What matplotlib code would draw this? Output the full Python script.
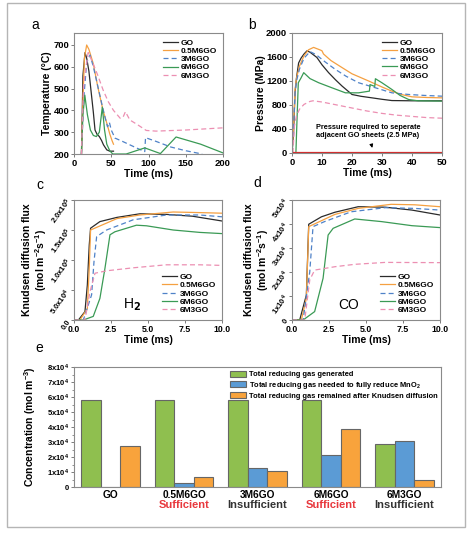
import numpy as np
import matplotlib
matplotlib.use("Agg")
import matplotlib.pyplot as plt
from matplotlib.patches import Rectangle
from matplotlib.transforms import blended_transform_factory

plt.rcParams['font.family'] = ['Liberation Sans', 'DejaVu Sans']
plt.rcParams['font.weight'] = 'bold'
plt.rcParams['axes.labelweight'] = 'bold'
plt.rcParams['mathtext.fontset'] = 'custom'
plt.rcParams['mathtext.rm'] = 'Liberation Sans:bold'
plt.rcParams['mathtext.it'] = 'Liberation Sans:bold'
plt.rcParams['mathtext.bf'] = 'Liberation Sans:bold'

names = ["GO", "0.5M6GO", "3M6GO", "6M6GO", "6M3GO"]
colors = ['#2b2b2b', '#f5a041', '#4f82c8', '#3a9a55', '#ec8fb2']
dashed = [False, False, True, False, True]

# a: temperature vs time
tA_GO = [10, 12, 14.8, 17, 20, 23.7, 26, 28.2, 31, 34, 37, 39.6, 44, 48, 53]
TA_GO = [200, 560, 665, 640, 580, 463, 390, 310, 290, 280, 262, 242, 219, 213, 213]
tA_05 = [10, 12, 14, 17, 20, 25.9, 32, 39, 45, 48, 51, 53]
TA_05 = [200, 450, 640, 700, 680, 614, 507, 400, 330, 292, 262, 245]
tA_3 = [10, 13, 17, 21.5, 26, 30, 34, 38, 42, 45, 47.5, 50, 55, 65, 75, 85, 95, 96, 110, 130, 150, 172]
TA_3 = [200, 450, 620, 654, 600, 540, 480, 420, 364, 325, 345, 310, 273, 258, 242, 226, 211, 275, 258, 232, 215, 200]
tA_6 = [10, 12, 14.5, 18, 22, 26, 30, 34, 38, 41, 44, 48, 52, 70, 95, 116, 137, 170, 200]
TA_6 = [200, 380, 470, 380, 310, 285, 280, 300, 415, 310, 245, 215, 200, 200, 228, 202, 278, 245, 205]
tA_63 = [10, 13, 19, 25, 32, 39, 46, 53, 62, 66, 69, 75, 85, 97, 110, 150, 200]
TA_63 = [200, 520, 665, 620, 560, 494, 440, 400, 364, 370, 394, 356, 335, 308, 305, 310, 320]

# b: pressure vs time
tB_GO = [0, 0.5, 1, 1.5, 2.2, 3, 4, 5, 6, 8.3, 10, 12.2, 14.5, 16.7, 20, 23, 26.7, 30, 33.3, 40, 50]
PB_GO = [0, 300, 1000, 1250, 1500, 1580, 1650, 1703, 1680, 1592, 1470, 1339, 1220, 1115, 975, 945, 919, 895, 874, 870, 870]
tB_05 = [0, 0.5, 1, 1.5, 2.5, 4, 5.5, 7.2, 9.5, 10, 10.5, 13, 16.7, 20, 25.6, 30, 33.3, 36, 40, 45, 50]
PB_05 = [0, 400, 1050, 1250, 1450, 1620, 1720, 1760, 1715, 1703, 1650, 1540, 1423, 1320, 1199, 1100, 1031, 980, 936, 925, 919]
tB_3 = [0, 0.5, 1, 1.5, 2.5, 4, 6, 8, 11, 14.4, 18, 22.2, 27.8, 33.3, 39, 44, 50]
PB_3 = [0, 350, 1000, 1200, 1400, 1580, 1690, 1640, 1520, 1395, 1280, 1171, 1087, 1003, 975, 960, 947]
tB_6 = [0, 1.3, 1.7, 2.1, 3, 3.9, 6, 8.9, 13.3, 17.8, 22.2, 25.8, 26, 27.6, 27.8, 30, 33.3, 36, 38.9, 42, 50]
PB_6 = [0, 0, 600, 1171, 1250, 1339, 1240, 1171, 1087, 1003, 1003, 1031, 1140, 1110, 1238, 1170, 1059, 960, 891, 870, 865]
tB_63 = [0.3, 0.8, 1.5, 2.5, 4, 6, 7, 10, 15, 20, 25, 30, 35, 40, 45, 50]
PB_63 = [0, 450, 620, 730, 810, 860, 870, 850, 800, 750, 700, 660, 630, 610, 590, 580]
p_required = 2.5

# c: H2 Knudsen flux
tC_GO = [0, 0.3, 0.74, 0.9, 1.03, 1.12, 1.75, 2.9, 4.45, 6.25, 8.0, 10]
FC_GO = [0, 0, 0.14e5, 0.58e5, 1.25e5, 1.53e5, 1.64e5, 1.71e5, 1.77e5, 1.76e5, 1.73e5, 1.65e5]
tC_05 = [0, 0.4, 0.9, 1.03, 1.12, 2.9, 4.45, 6.7, 8.5, 10]
FC_05 = [0, 0, 0.19e5, 0.86e5, 1.5e5, 1.69e5, 1.75e5, 1.8e5, 1.79e5, 1.78e5]
tC_3 = [0, 0.63, 1.19, 1.35, 1.53, 2.2, 4.0, 6.25, 8.5, 10]
FC_3 = [0, 0, 0.42e5, 0.97e5, 1.39e5, 1.5e5, 1.67e5, 1.75e5, 1.75e5, 1.72e5]
tC_6 = [0, 0.63, 1.3, 1.75, 2.09, 2.43, 2.76, 4.22, 4.9, 6.7, 8.5, 10]
FC_6 = [0, 0, 0.06e5, 0.36e5, 0.86e5, 1.42e5, 1.47e5, 1.58e5, 1.57e5, 1.5e5, 1.46e5, 1.44e5]
tC_63 = [0, 0.74, 1.08, 1.42, 2.2, 4.0, 6.25, 8.5, 10]
FC_63 = [0, 0, 0.47e5, 0.78e5, 0.82e5, 0.87e5, 0.92e5, 0.92e5, 0.91e5]

# d: CO Knudsen flux
tD_GO = [0, 0.52, 0.97, 1.13, 1.99, 2.9, 4.47, 6.3, 8.1, 10]
FD_GO = [0, 0, 1.04e4, 3.99e4, 4.3e4, 4.49e4, 4.72e4, 4.7e4, 4.58e4, 4.375e4]
tD_05 = [0, 0.63, 0.97, 1.13, 2.9, 4.47, 6.7, 8.3, 10]
FD_05 = [0, 0, 0.9e4, 3.89e4, 4.4e4, 4.65e4, 4.82e4, 4.8e4, 4.72e4]
tD_3 = [0, 0.75, 1.2, 1.42, 2.2, 4.0, 6.3, 8.3, 10]
FD_3 = [0, 0, 2.01e4, 3.89e4, 4.1e4, 4.51e4, 4.68e4, 4.65e4, 4.58e4]
tD_6 = [0, 0.75, 1.53, 2.1, 2.44, 2.78, 4.24, 6.05, 8.1, 10]
FD_6 = [0, 0, 0.35e4, 1.74e4, 3.54e4, 3.82e4, 4.21e4, 4.1e4, 3.93e4, 3.85e4]
tD_63 = [0, 0.86, 1.2, 1.53, 2.9, 4.24, 6.3, 10]
FD_63 = [0, 0, 1.67e4, 2.08e4, 2.22e4, 2.32e4, 2.4e4, 2.39e4]

# e: concentration bars
gas_generated = [5.8e4, 5.8e4, 5.8e4, 5.8e4, 2.9e4]
gas_needed = [0, 0.25e4, 1.3e4, 2.12e4, 3.1e4]
gas_remained = [2.75e4, 0.7e4, 1.05e4, 3.88e4, 0.48e4]
status = ["", "Sufficient", "Insufficient", "Sufficient", "Insufficient"]
status_colors = ['black', '#e8383d', '#333333', '#e8383d', '#333333']

W, H = 475, 534
fig = plt.figure(figsize=(W / 100, H / 100), dpi=100)


def rect(l, r, t, b):
    return [l / W, 1 - b / H, (r - l) / W, (b - t) / H]


def style(ax, size=6.8):
    for s in ax.spines.values():
        s.set_color('#8a8a8a')
        s.set_linewidth(0.8)
    ax.tick_params(labelsize=size, length=2, width=0.6, color='#666666', pad=1.5)


def curves(ax, data):
    for (x, y), c, d, n in zip(data, colors, dashed, names):
        ax.plot(x, y, color=c, lw=0.9, ls=(0, (4, 2.5)) if d else '-', label=n)


leg_kw = dict(fontsize=6, frameon=False, handlelength=1.8, labelspacing=0.05,
              borderaxespad=0.3, handletextpad=0.4)

axA = fig.add_axes(rect(74, 223, 33, 154))
curves(axA, [(tA_GO, TA_GO), (tA_05, TA_05), (tA_3, TA_3), (tA_6, TA_6), (tA_63, TA_63)])
axA.set_xlim(0, 200)
axA.set_ylim(200, 755)
axA.set_xticks([0, 50, 100, 150, 200])
axA.set_yticks([200, 300, 400, 500, 600, 700])
axA.set_xlabel("Time (ms)", fontsize=7.5, labelpad=1)
axA.set_ylabel("Temperature (°C)", fontsize=7.5)
axA.yaxis.set_label_coords(-0.15, 0.5)
axA.legend(loc='upper right', **leg_kw)
style(axA)

axB = fig.add_axes(rect(292, 442, 33, 153))
curves(axB, [(tB_GO, PB_GO), (tB_05, PB_05), (tB_3, PB_3), (tB_6, PB_6), (tB_63, PB_63)])
axB.plot([0, 50], [p_required, p_required], color='#d42a2a', lw=1.6)
axB.annotate("Pressure required to seperate\nadjacent GO sheets (2.5 MPa)",
             xy=(27, 40), xytext=(25.3, 360), ha='center', va='center', fontsize=5.3,
             arrowprops=dict(arrowstyle='-|>', color='black', lw=0.7, mutation_scale=5))
axB.set_xlim(0, 50)
axB.set_ylim(0, 2000)
axB.set_xticks([0, 10, 20, 30, 40, 50])
axB.set_yticks([0, 400, 800, 1200, 1600, 2000])
axB.set_xlabel("Time (ms)", fontsize=7.5, labelpad=1)
axB.set_ylabel("Pressure (MPa)", fontsize=7.5)
axB.yaxis.set_label_coords(-0.17, 0.5)
axB.legend(loc='upper right', **leg_kw)
style(axB)

flux_label = "Knudsen diffusion flux\n(mol m$^{-2}$s$^{-1}$)"

axC = fig.add_axes(rect(74, 222, 200, 320))
curves(axC, [(tC_GO, FC_GO), (tC_05, FC_05), (tC_3, FC_3), (tC_6, FC_6), (tC_63, FC_63)])
axC.set_xlim(0, 10)
axC.set_ylim(0, 2.0e5)
axC.set_xticks([0, 2.5, 5, 7.5, 10])
axC.set_xticklabels(["0.0", "2.5", "5.0", "7.5", "10.0"])
axC.set_yticks([0, 0.5e5, 1.0e5, 1.5e5, 2.0e5])
axC.set_yticklabels(["0.0", "5.0x10$^4$", "1.0x10$^5$", "1.5x10$^5$", "2.0x10$^5$"],
                    rotation=55, ha='right', va='center', rotation_mode='anchor')
axC.text(3.9, 0.25e5, "H$_2$", fontsize=10, ha='center', va='center',
         math_fontfamily='dejavusans', fontweight='normal')
axC.set_xlabel("Time (ms)", fontsize=7.5, labelpad=1)
axC.set_ylabel(flux_label, fontsize=7.5, linespacing=1.1)
axC.yaxis.set_label_coords(-0.17, 0.5)
axC.legend(loc='lower right', **leg_kw)
style(axC, 6.3)
axC.tick_params(axis='y', labelsize=5.5)

axD = fig.add_axes(rect(292, 440, 200, 320))
curves(axD, [(tD_GO, FD_GO), (tD_05, FD_05), (tD_3, FD_3), (tD_6, FD_6), (tD_63, FD_63)])
axD.set_xlim(0, 10)
axD.set_ylim(0, 5e4)
axD.set_xticks([0, 2.5, 5, 7.5, 10])
axD.set_xticklabels(["0.0", "2.5", "5.0", "7.5", "10.0"])
axD.set_yticks([0, 1e4, 2e4, 3e4, 4e4, 5e4])
axD.set_yticklabels(["0", "1x10$^4$", "2x10$^4$", "3x10$^4$", "4x10$^4$", "5x10$^4$"],
                    rotation=55, ha='right', va='center', rotation_mode='anchor')
axD.text(3.8, 0.625e4, "CO", fontsize=10, ha='center', va='center', fontweight='normal')
axD.set_xlabel("Time (ms)", fontsize=7.5, labelpad=1)
axD.set_ylabel(flux_label, fontsize=7.5, linespacing=1.1)
axD.yaxis.set_label_coords(-0.14, 0.5)
axD.legend(loc='lower right', **leg_kw)
style(axD, 6.3)
axD.tick_params(axis='y', labelsize=5.5)

axE = fig.add_axes(rect(74, 441, 367, 487))
x = np.arange(len(names))
bw = 0.266
axE.bar(x - bw, gas_generated, bw, color='#8fbf4f', edgecolor='#666666', lw=0.8,
        label="Total reducing gas generated")
axE.bar(x, gas_needed, bw, color='#5b9bd5', edgecolor='#666666', lw=0.8,
        label="Total reducing gas needed to fully reduce MnO$_2$")
axE.bar(x + bw, gas_remained, bw, color='#f8a33c', edgecolor='#666666', lw=0.8,
        label="Total reducing gas remained after Knudsen diffusion")
axE.set_xlim(-0.5, 4.5)
axE.set_ylim(0, 8e4)
axE.set_xticks(x)
axE.set_xticklabels(names)
axE.set_yticks([i * 1e4 for i in range(9)])
axE.set_yticklabels(["0"] + ["%dx10$^4$" % i for i in range(1, 9)])
axE.set_yticks([i * 1e4 + 5e3 for i in range(8)], minor=True)
axE.set_ylabel("Concentration (mol m$^{-3}$)", fontsize=7.5)
axE.yaxis.set_label_coords(-0.098, 0.5)
style(axE, 5.5)
axE.tick_params(axis='x', length=0, labelsize=7.3, pad=2.5)
axE.tick_params(axis='y', which='minor', length=1.2, width=0.5, color='#666666')
tr = blended_transform_factory(axE.transData, axE.transAxes)
for xi, s, c in zip(x, status, status_colors):
    axE.text(xi, -0.15, s, transform=tr, ha='center', va='center', fontsize=8, color=c)
axE.legend(loc='upper right', fontsize=5.4, frameon=False, handlelength=2.2,
           handleheight=0.9, labelspacing=0.18, borderaxespad=0.1, handletextpad=0.3)

for lbl, px, py in [("a", 35, 25), ("b", 252, 25), ("c", 40, 185), ("d", 257, 183), ("e", 39, 348)]:
    fig.text(px / W, 1 - py / H, lbl, fontsize=10, fontweight='normal', ha='center', va='center')

fig.add_artist(Rectangle((7 / W, 1 - 527 / H), 458 / W, 524 / H, transform=fig.transFigure,
                         fill=False, ec='#b5b5b5', lw=1))

fig.savefig("out.png", dpi=100)
